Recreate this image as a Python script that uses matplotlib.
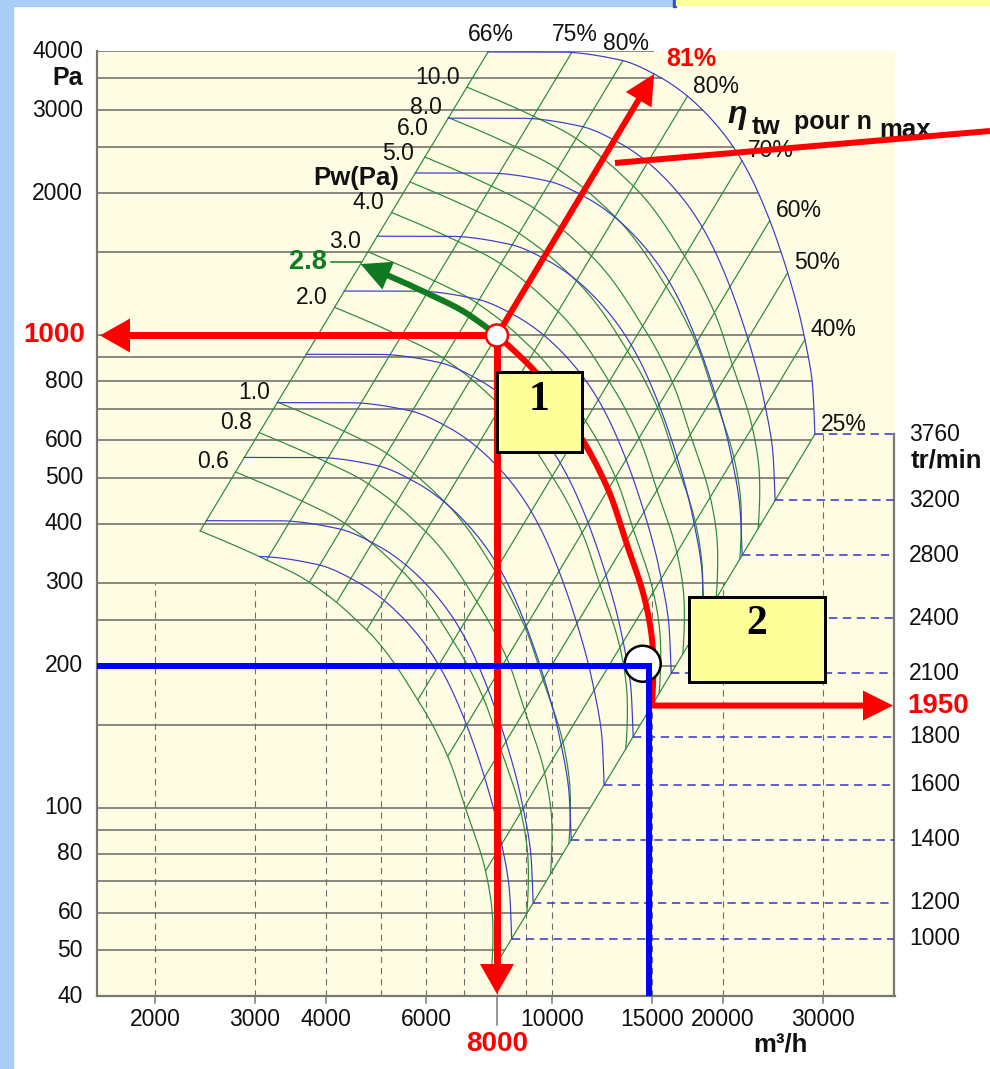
import numpy as np
import matplotlib
matplotlib.use("Agg")
import matplotlib.pyplot as plt
from matplotlib.patches import Polygon, Rectangle, Circle
from matplotlib.lines import Line2D
from matplotlib.ticker import NullLocator
from matplotlib.transforms import IdentityTransform

plt.rcParams['font.family'] = ['Liberation Sans', 'DejaVu Sans']
plt.rcParams['lines.scale_dashes'] = False

# ---------------- data ----------------
ref_rpm = 3760
ref_Q = [7716, 10330, 13170, 15490, 17640, 20740, 22960, 26240, 27660, 28800, 29030]
ref_p = [3981, 3980, 3830, 3521, 3150, 2530, 2032, 1309, 1026, 767, 618]

eff_labels = ["66%", "75%", "80%", "81%", "80%", "70%", "60%", "50%", "40%", "25%"]
eff_values = [0.66, 0.75, 0.80, 0.81, 0.80, 0.70, 0.60, 0.50, 0.40, 0.25]
eff_Q = [7716, 10834, 13330, 14780, 17320, 21600, 24180, 26000, 27880, 29030]

rpm_values = [3760, 3200, 2800, 2400, 2100, 1800, 1600, 1400, 1200, 1100]
rpm_labels = ["3760", "3200", "2800", "2400", "2100", "1800", "1600", "1400", "1200", "1000"]

power_values = [0.6, 0.8, 1.0, 2.0, 3.0, 4.0, 5.0, 6.0, 8.0, 10.0]
power_labels = ["0.6", "0.8", "1.0", "2.0", "3.0", "4.0", "5.0", "6.0", "8.0", "10.0"]
power_min = 0.39

op1_Q, op1_p = 8000, 1000
op1_power_label = "2.8"
op2_Q, op2_p = 14800, 200
op2_rpm_label = "1950"

x_tick_values = [2000, 3000, 4000, 6000, 10000, 15000, 20000, 30000]
y_tick_values = [4000, 3000, 2000, 800, 600, 500, 400, 300, 200, 100, 80, 60, 50, 40]
h_grid_values = [4000, 3500, 3000, 2500, 2000, 1500, 1000, 900, 800, 700, 600, 500,
                 400, 300, 250, 200, 150, 100, 90, 80, 70, 60, 50]
v_grid_values = [2000, 3000, 4000, 5000, 6000, 7000, 8000, 9000, 10000, 15000, 20000, 30000]

# ---------------- styling ----------------
W, H, DPI = 990, 1069, 100
PT = 72.0 / DPI
BEIGE = '#FEFCE2'
GRID = '#858580'
VGRID = '#6c6c6c'
BLUE = '#3c3cc8'
GREEN = '#2b8a3c'
RED = '#ff0000'
DKGREEN = '#107a22'
TXT = '#111111'

fig = plt.figure(figsize=(W / DPI, H / DPI), dpi=DPI)
fig.patch.set_facecolor('white')
AX_L, AX_R, AX_T, AX_B = 97, 895, 51, 996
ax = fig.add_axes([AX_L / W, 1 - AX_B / H, (AX_R - AX_L) / W, (AX_B - AX_T) / H])
ax.set_xscale('log')
ax.set_yscale('log')
XMIN, XMAX = 1581, 40170
ax.set_xlim(XMIN, XMAX)
ax.set_ylim(40, 4000)
ax.set_facecolor(BEIGE)
for sp in ['top', 'right']:
    ax.spines[sp].set_visible(False)
for sp in ['left', 'bottom']:
    ax.spines[sp].set_color('#777772')
    ax.spines[sp].set_linewidth(2.2 * PT)
for a in (ax.xaxis, ax.yaxis):
    a.set_major_locator(NullLocator())
    a.set_minor_locator(NullLocator())

# decorations around
fig.add_artist(Rectangle((0, 0), 13 / W, 1, transform=fig.transFigure, color='#a9cff6', zorder=0))
fig.add_artist(Rectangle((0, 1 - 6 / H), 673 / W, 6 / H, transform=fig.transFigure, color='#a9cff6', zorder=0))
fig.add_artist(Rectangle((673 / W, 1 - 7 / H), 3 / W, 7 / H, transform=fig.transFigure, color='#2a50d0', zorder=0))
fig.add_artist(Rectangle((676 / W, 1 - 5 / H), 314 / W, 5 / H, transform=fig.transFigure, color='#ffff99', zorder=0))


def D(q, p):
    return ax.transData.transform((q, p))


def ptext(x, y, s, **kw):
    return fig.text(x / W, 1 - y / H, s, **kw)


def pline(xs, ys, **kw):
    l = Line2D(xs, ys, transform=IdentityTransform(), **kw)
    fig.add_artist(l)
    return l


def draw_arrow(pts, color, lw_px, hl, hw, z=6):
    pts = np.asarray(pts, float)
    tip = pts[-1]
    acc = 0.0
    i = len(pts) - 1
    base = pts[0]
    while i > 0:
        d = np.hypot(*(pts[i] - pts[i - 1]))
        if acc + d >= hl:
            f = (hl - acc) / d
            base = pts[i] + (pts[i - 1] - pts[i]) * f
            break
        acc += d
        i -= 1
    u = (tip - base) / np.hypot(*(tip - base))
    n = np.array([-u[1], u[0]])
    shaft = np.vstack([pts[:max(i, 1)], base + u * hl * 0.3])
    pline(shaft[:, 0], shaft[:, 1], color=color, lw=lw_px * PT, zorder=z,
          solid_capstyle='butt', solid_joinstyle='round')
    fig.add_artist(Polygon([tip, base + n * hw / 2, base - n * hw / 2], closed=True,
                           transform=IdentityTransform(), color=color, zorder=z, lw=0))


def pchip(x, y, xq):
    x = np.asarray(x, float)
    y = np.asarray(y, float)
    h = np.diff(x)
    d = np.diff(y) / h
    m = np.zeros_like(y)
    for k in range(1, len(x) - 1):
        if d[k - 1] * d[k] > 0:
            w1 = 2 * h[k] + h[k - 1]
            w2 = h[k] + 2 * h[k - 1]
            m[k] = (w1 + w2) / (w1 / d[k - 1] + w2 / d[k])
    m[0] = d[0]
    m[-1] = d[-1]
    xq = np.asarray(xq, float)
    idx = np.clip(np.searchsorted(x, xq) - 1, 0, len(h) - 1)
    t = (xq - x[idx]) / h[idx]
    h00 = 2 * t ** 3 - 3 * t ** 2 + 1
    h10 = t ** 3 - 2 * t ** 2 + t
    h01 = -2 * t ** 3 + 3 * t ** 2
    h11 = t ** 3 - t ** 2
    return h00 * y[idx] + h10 * h[idx] * m[idx] + h01 * y[idx + 1] + h11 * h[idx] * m[idx + 1]


# ---------------- model of the fan curves ----------------
KX, KY = 568.0, 472.5
ux = np.log10(ref_Q) * KX
uy = np.log10(ref_p) * KY
tk = np.concatenate([[0], np.cumsum(np.hypot(np.diff(ux), np.diff(uy)))])
tf = np.linspace(0, tk[-1], 1500)
Qf = 10 ** (pchip(tk, ux, tf) / KX)
pf = 10 ** (pchip(tk, uy, tf) / KY)

# max-efficiency line passes through operating point 1
k = pf / Qf ** 2
k_op = op1_p / op1_Q ** 2
Q81 = float(np.interp(k_op, k[::-1], Qf[::-1]))
effQ = list(eff_Q)
effQ[3] = Q81

te = np.interp(effQ, Qf, tf)
eta_f = pchip(te, eff_values, tf)
Pref = Qf / 3600.0 * pf / eta_f / 1000.0
p_end, Q_end = pf[-1], Qf[-1]


def power_curve(P):
    s = (P / Pref) ** (1 / 3)
    m = s <= 1.0
    return Qf[m] * s[m], pf[m] * s[m] ** 2


def speed_curve(n):
    s = n / ref_rpm
    m = Pref * s ** 3 >= power_min
    return Qf[m] * s, pf[m] * s * s


i81 = int(np.argmin(np.abs(Qf - Q81)))
P_op = float(np.interp(Q81, Qf, Pref)) * (op1_Q / Q81) ** 3

# ---------------- grid ----------------
i_top = int(np.argmax(Qf > 12000))
Qd, pd_ = Qf[i_top:], pf[i_top:]


def env_Q(p):
    if p <= p_end:
        return Q_end * np.sqrt(p / p_end)
    if p >= pd_[0]:
        return Q81
    return float(np.interp(p, pd_[::-1], Qd[::-1]))


for p in h_grid_values:
    ax.plot([XMIN, env_Q(p)], [p, p], color=GRID, lw=1.9 * PT, zorder=1, solid_capstyle='butt')
for q in v_grid_values:
    top = 300 if q <= Q_end else p_end
    ax.plot([q, q], [40, top], color=VGRID, lw=1.1 * PT, ls=(0, (4.5, 3.5)), zorder=1)

# right spine part
xr = D(XMAX, p_end)
xb = D(XMAX, 40)
pline([xr[0] - 1, xb[0] - 1], [xr[1], xb[1]], color='#777772', lw=2.2 * PT, zorder=2)

# ---------------- fan chart lines ----------------
for Qe in effQ:
    pe = float(np.interp(Qe, Qf, pf))
    Pe = float(np.interp(Qe, Qf, Pref))
    smin = (power_min / Pe) ** (1 / 3)
    ax.plot([Qe * smin, Qe], [pe * smin ** 2, pe], color=GREEN, lw=1.2 * PT, zorder=3)

for P in power_values + [power_min]:
    q, p = power_curve(P)
    ax.plot(q, p, color=GREEN, lw=1.2 * PT, zorder=3)

for n, lab in zip(rpm_values, rpm_labels):
    q, p = speed_curve(n)
    ax.plot(q, p, color=BLUE, lw=1.2 * PT, zorder=3.5)
    a = D(q[-1], p[-1])
    b = D(XMAX, p[-1])
    pline([a[0], b[0] - 1], [a[1], a[1]], color=BLUE, lw=1.6 * PT, ls=(0, (6, 4)), zorder=3.5)
    ax.annotate(lab, xy=(1, p[-1]), xycoords=('axes fraction', 'data'),
                xytext=(14 * PT, 0), textcoords='offset points', ha='left', va='center',
                fontsize=16.5, color=TXT, annotation_clip=False)

for i, (lab, Qe) in enumerate(zip(eff_labels, effQ)):
    pe = float(np.interp(Qe, Qf, pf))
    if i < 3:
        ax.annotate(lab, xy=(Qe, pe), xytext=(3 * PT, 6 * PT), textcoords='offset points',
                    ha='center', va='bottom', fontsize=16.5, color=TXT, annotation_clip=False)
    elif i == 3:
        ax.annotate(lab, xy=(Qe, pe), xytext=(12 * PT, 15 * PT), textcoords='offset points',
                    ha='left', va='center', fontsize=18, color=RED, fontweight='bold',
                    annotation_clip=False, zorder=9)
    else:
        ax.annotate(lab, xy=(Qe, pe), xytext=(6 * PT, 10 * PT), textcoords='offset points',
                    ha='left', va='center', fontsize=16.5, color=TXT, annotation_clip=False)

s0 = Pref[0]
for P, lab in zip(power_values, power_labels):
    s = (P / s0) ** (1 / 3)
    q, p = Qf[0] * s, pf[0] * s * s
    off = (-7, 10) if lab not in ("5.0", "6.0") else (4, 28)
    ax.annotate(lab, xy=(q, p), xytext=(off[0] * PT, off[1] * PT), textcoords='offset points',
                ha='right', va='center', fontsize=16.5, color=TXT)

ptext(356, 178, "Pw(Pa)", fontsize=18.5, fontweight='bold', ha='center', va='center', color=TXT)

# ---------------- operating points ----------------
a = D(XMIN, op2_p)
b = D(op2_Q, op2_p)
c0 = D(op2_Q, 40)
fig.add_artist(Circle(b + [-6, 2], 18, transform=IdentityTransform(), facecolor='white',
                      edgecolor='black', lw=2.5 * PT, zorder=6.5))
pline([a[0], b[0], b[0], c0[0]], [a[1], a[1], b[1], c0[1]], color='#0000ff',
      lw=6 * PT, zorder=7, solid_joinstyle='miter', solid_capstyle='butt')

o = D(op1_Q, op1_p)
draw_arrow([o, D(XMIN, op1_p) + [3, 0]], RED, 7, 30, 34)
draw_arrow([o, D(op1_Q, 40) + [0, 2]], RED, 7, 30, 34)
draw_arrow([o, D(Q81, float(np.interp(Q81, Qf, pf)))], RED, 6, 30, 30)

s_r = (P_op / Pref[i81:]) ** (1 / 3)
qr, prr = Qf[i81:] * s_r, pf[i81:] * s_r ** 2
pts = np.array([D(qq, pp) for qq, pp in zip(qr, prr)])
pts[0] = o
end = D(XMAX, prr[-1])
pts = np.vstack([pts, [end[0] - 2, pts[-1][1]]])
draw_arrow(pts, RED, 6, 30, 30)

s_g = (P_op / Pref[:i81 + 1]) ** (1 / 3)
qg, pg = Qf[:i81 + 1] * s_g, pf[:i81 + 1] * s_g ** 2
ptsg = np.array([D(qq, pp) for qq, pp in zip(qg, pg)])[::-1]
ptsg[0] = o
draw_arrow(ptsg, DKGREEN, 6, 30, 30, z=6)
lb = ptsg[-1]
pline([lb[0] - 30, lb[0]], [lb[1] + 2, lb[1] + 2], color=DKGREEN, lw=1.5 * PT, zorder=6)
ax.annotate(op1_power_label, xy=(qg[0], pg[0]), xytext=(-34 * PT, 2 * PT), textcoords='offset points',
            ha='right', va='center', fontsize=19.5, fontweight='bold', color=DKGREEN)

fig.add_artist(Circle(o, 11, transform=IdentityTransform(), facecolor='white',
                      edgecolor=RED, lw=2.5 * PT, zorder=8))

# ---------------- axis labels ----------------
for p in y_tick_values:
    ax.annotate(str(p), xy=(0, p), xycoords=('axes fraction', 'data'), xytext=(-14 * PT, 0),
                textcoords='offset points', ha='right', va='center', fontsize=16.5,
                color=TXT, annotation_clip=False)
ax.annotate(str(op1_p), xy=(0, op1_p), xycoords=('axes fraction', 'data'), xytext=(-12 * PT, 0),
            textcoords='offset points', ha='right', va='center', fontsize=20, fontweight='bold',
            color=RED, annotation_clip=False)
ax.annotate("Pa", xy=(0, 3500), xycoords=('axes fraction', 'data'), xytext=(-14 * PT, 0),
            textcoords='offset points', ha='right', va='center', fontsize=18, fontweight='bold',
            color=TXT, annotation_clip=False)

for q in x_tick_values:
    xx = D(q, 40)
    pline([xx[0], xx[0]], [xx[1], xx[1] - 7], color='#777772', lw=1.5 * PT, zorder=2)
    ax.annotate(str(q), xy=(q, 0), xycoords=('data', 'axes fraction'), xytext=(0, -23 * PT),
                textcoords='offset points', ha='center', va='center', fontsize=16.5,
                color=TXT, annotation_clip=False)
xx = D(op1_Q, 40)
pline([xx[0], xx[0]], [xx[1], xx[1] - 29], color='#777772', lw=1.5 * PT, zorder=2)
ax.annotate(str(op1_Q), xy=(op1_Q, 0), xycoords=('data', 'axes fraction'), xytext=(0, -48 * PT),
            textcoords='offset points', ha='center', va='center', fontsize=20, fontweight='bold',
            color=RED, annotation_clip=False)
ptext(780, 1045, "m³/h", fontsize=18.5, fontweight='bold', ha='center', va='center', color=TXT)
ptext(911, 461, "tr/min", fontsize=18.5, fontweight='bold', ha='left', va='center', color=TXT)
ax.annotate(op2_rpm_label, xy=(1, prr[-1]), xycoords=('axes fraction', 'data'), xytext=(12 * PT, 0),
            textcoords='offset points', ha='left', va='center', fontsize=20, fontweight='bold',
            color=RED, annotation_clip=False)

# eta label and pointer
ptext(727, 123, "η", fontsize=23, fontweight='bold', fontstyle='italic', ha='left', va='baseline', color=TXT)
ptext(752, 134, "tw", fontsize=18.5, fontweight='bold', ha='left', va='baseline', color=TXT)
ptext(794, 129, "pour n", fontsize=18, fontweight='bold', ha='left', va='baseline', color=TXT)
ptext(879, 137, "max", fontsize=18.5, fontweight='bold', ha='left', va='baseline', color=TXT)
pline([615, 990], [H - 163, H - 131], color=RED, lw=6 * PT, zorder=9, solid_capstyle='butt')

# numbered boxes
for (x0, y0, x1, y1, lab, ty) in [(497, 372, 582, 452, "1", 400), (689, 597, 825, 682, "2", 624)]:
    fig.add_artist(Rectangle((x0, H - y1), x1 - x0, y1 - y0, transform=IdentityTransform(),
                             facecolor='#ffff99', edgecolor='black', lw=3 * PT, zorder=10))
    ptext((x0 + x1) / 2, ty, lab, fontsize=30, fontweight='bold', family='Liberation Serif',
          ha='center', va='center', color='black', zorder=11)

fig.savefig("out.png", dpi=DPI, facecolor='white')
